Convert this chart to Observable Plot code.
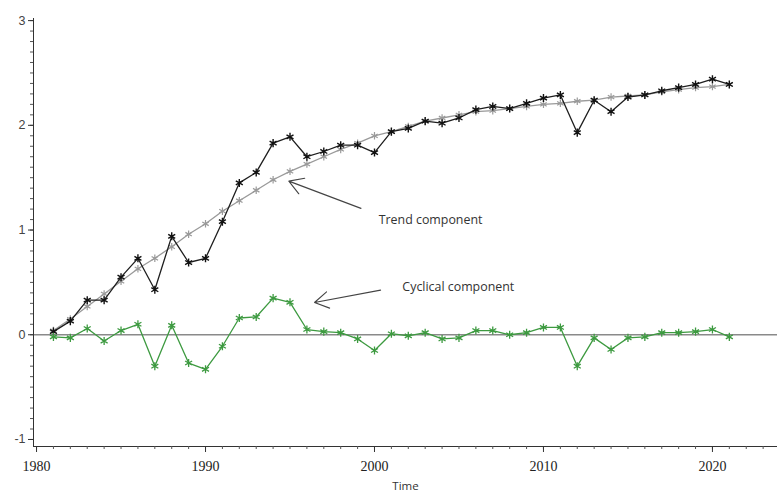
<!DOCTYPE html>
<html><head><meta charset="utf-8">
<script src="https://cdn.jsdelivr.net/npm/d3@7"></script>
<script src="https://cdn.jsdelivr.net/npm/@observablehq/plot@0.6"></script>
<style>body{margin:0;background:#fff;} svg{display:block;}</style>
</head><body><div id="chart"></div>
<script>
const years = [1981,1982,1983,1984,1985,1986,1987,1988,1989,1990,1991,1992,1993,1994,1995,1996,1997,1998,1999,2000,2001,2002,2003,2004,2005,2006,2007,2008,2009,2010,2011,2012,2013,2014,2015,2016,2017,2018,2019,2020,2021];
const observed = [0.03,0.13,0.33,0.33,0.55,0.73,0.43,0.94,0.69,0.73,1.08,1.45,1.55,1.83,1.89,1.70,1.75,1.81,1.81,1.74,1.94,1.97,2.04,2.02,2.07,2.15,2.18,2.16,2.21,2.26,2.29,1.93,2.24,2.13,2.27,2.29,2.33,2.36,2.39,2.44,2.39];
const trend = [0.04,0.15,0.27,0.39,0.51,0.63,0.73,0.84,0.96,1.06,1.18,1.28,1.38,1.48,1.56,1.63,1.70,1.77,1.83,1.90,1.94,1.99,2.04,2.07,2.10,2.13,2.14,2.16,2.18,2.20,2.21,2.23,2.24,2.27,2.28,2.29,2.32,2.34,2.36,2.37,2.39];
const cyclical = [-0.02,-0.03,0.06,-0.06,0.04,0.10,-0.30,0.09,-0.27,-0.33,-0.11,0.16,0.17,0.35,0.31,0.05,0.03,0.02,-0.04,-0.15,0.01,-0.01,0.02,-0.04,-0.03,0.04,0.04,0.00,0.02,0.07,0.07,-0.30,-0.03,-0.14,-0.03,-0.02,0.02,0.02,0.03,0.05,-0.02];

const xDomain = [1979.82, 2023.85];
const yDomain = [-1.067, 3.02];
const xMajorTicks = [1980,1990,2000,2010,2020];
const yMajorTicks = [-1,0,1,2,3];
const xLabel = "Time";

// annotations (data units)
const arrows = [
  {label:"Trend component", x1:1999.2, y1:1.207, x2:1994.93, y2:1.467, tx:2000.25, ty:1.10},
  {label:"Cyclical component", x1:2000.36, y1:0.426, x2:1996.45, y2:0.308, tx:2001.65, ty:0.457}
];

const rows = (vals) => years.map((y,i)=>({year:y, v:vals[i]}));
const dObs = rows(observed), dTrend = rows(trend), dCyc = rows(cyclical);

const xMinor = d3.range(1980, 2024, 1);
const yMinor = d3.range(-10, 31, 1).map(d=>d/10);

const green = "#3d9a40";

const plot = Plot.plot({
  width: 777, height: 494,
  marginLeft: 33, marginRight: 0, marginTop: 18, marginBottom: 48,
  style: {fontFamily: "Liberation Sans, Arial, sans-serif", color: "#333", background: "#fff"},
  x: {domain: xDomain, axis: null},
  y: {domain: yDomain, axis: null},
  marks: [
    Plot.ruleY([0], {stroke: "#8a8a8a", strokeWidth: 1.4}),
    // axes lines
    Plot.ruleX([xDomain[0]], {stroke: "#333", strokeWidth: 1}),
    Plot.ruleY([yDomain[0]], {stroke: "#333", strokeWidth: 1}),
    // y axis ticks
    Plot.axisY(yMinor, {tickSize: 3, label: null, tickFormat: () => "", stroke: "#555"}),
    Plot.axisY(yMajorTicks, {tickSize: 5, label: null, tickFormat: () => "", stroke: "#333"}),
    Plot.text(yMajorTicks, {y: d => d, text: d => String(d), frameAnchor: "left", textAnchor: "end", dx: -8, fill: "#444", fontSize: 12.5, fontFamily: "Liberation Sans, Arial, sans-serif"}),
    // x axis ticks
    Plot.axisX(xMinor, {tickSize: 3, label: null, tickFormat: () => "", stroke: "#555"}),
    Plot.axisX(xMajorTicks, {tickSize: 6, label: null, tickFormat: () => "", stroke: "#333"}),
    Plot.text(xMajorTicks, {x: d => d, text: d => String(d), frameAnchor: "bottom", lineAnchor: "middle", dy: 20, fill: "#222", fontSize: 14, fontFamily: "Liberation Serif, serif"}),
    Plot.text([xLabel], {frameAnchor: "bottom", lineAnchor: "middle", dy: 40, text: d => d, fontSize: 11.5, fill: "#333", fontFamily: "Open Sans, sans-serif"}),
    // series
    Plot.line(dTrend, {x: "year", y: "v", stroke: "#9a9a9a", strokeWidth: 1.3}),
    Plot.dot(dTrend, {x: "year", y: "v", symbol: "asterisk", r: 3.5, stroke: "#9a9a9a", strokeWidth: 1.2}),
    Plot.line(dObs, {x: "year", y: "v", stroke: "#1e1e1e", strokeWidth: 1.3}),
    Plot.dot(dObs, {x: "year", y: "v", symbol: "asterisk", r: 3.8, stroke: "#111", strokeWidth: 1.4}),
    Plot.line(dCyc, {x: "year", y: "v", stroke: green, strokeWidth: 1.3}),
    Plot.dot(dCyc, {x: "year", y: "v", symbol: "asterisk", r: 3.8, stroke: green, strokeWidth: 1.3}),
    // annotations
    Plot.arrow(arrows, {x1: "x1", y1: "y1", x2: "x2", y2: "y2", stroke: "#444", strokeWidth: 1.1, headLength: 22, headAngle: 62}),
    Plot.text(arrows, {x: "tx", y: "ty", text: "label", textAnchor: "start", fontSize: 12.4, fill: "#333", fontFamily: "Open Sans, sans-serif"})
  ]
});
document.getElementById("chart").appendChild(plot);
</script>
</body></html>
